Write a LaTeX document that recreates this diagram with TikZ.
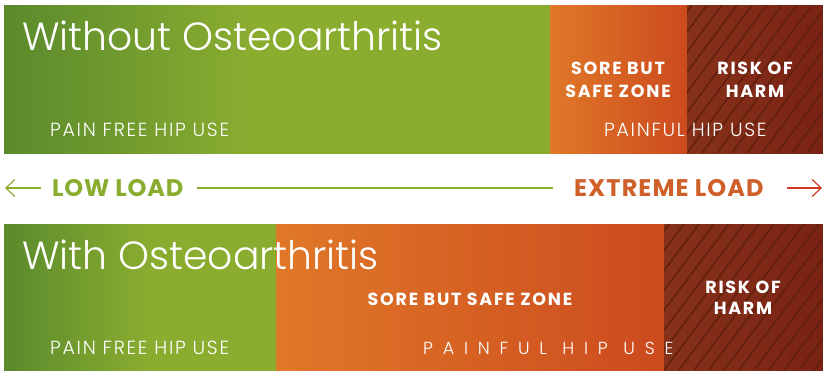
\documentclass[tikz,border=0pt]{standalone}
\usepackage{fontspec}
\setmainfont{Poppins}
\newfontfamily\lightf{Poppins Light}
\usetikzlibrary{arrows.meta}
\definecolor{gdark}{HTML}{5A8A2C}
\definecolor{glight}{HTML}{8AAD30}
\definecolor{oleft}{HTML}{E07828}
\definecolor{oright}{HTML}{CC4A1E}
\definecolor{bleft}{HTML}{86321A}
\definecolor{bright}{HTML}{7A2214}
\definecolor{stripe}{HTML}{62200F}
\definecolor{lowc}{HTML}{8AAD30}
\definecolor{extc}{HTML}{D0602A}
\definecolor{redarr}{HTML}{D03A20}
\tikzset{
  title/.style={anchor=base west, inner sep=0, white, font=\lightf\fontsize{39.3}{39.3}\selectfont},
  small/.style={anchor=base west, inner sep=0, white, font=\lightf\fontsize{19}{19}\selectfont\addfontfeature{LetterSpace=9}},
  bold/.style={inner sep=0, white, align=center, font=\bfseries\fontsize{17.5}{23}\selectfont\addfontfeature{LetterSpace=10}},
  load/.style={inner sep=0, anchor=base west, font=\bfseries\fontsize{24}{24}\selectfont},
  stripes/.style={stripe, line width=1.6pt},
  barb/.style={-{Straight Barb[length=9pt,width=17pt]}, line width=1.2pt}
}
\newcommand\shadebox[4]{%
  \begin{scope}\clip #3 rectangle #4; \shade[left color=#1,right color=#2] #3 rectangle #4;\end{scope}}
\begin{document}
\begin{tikzpicture}[x=1pt,y=-1pt]
\useasboundingbox (0,0) rectangle (823,370);
% top band
\shadebox{gdark}{glight}{(4,5)}{(250,153)}
\shadebox{glight}{glight}{(249.5,5)}{(550,153)}
\shadebox{oleft}{oright}{(550,5)}{(687,153)}
\shadebox{bleft}{bright}{(687,5)}{(823,153)}
\begin{scope}
\clip (687,5) rectangle (823,153);
\foreach \i in {-8,...,10} \draw[stripes] (687+\i*15,153) -- ++(110,-148);
\end{scope}
% bottom band
\shadebox{gdark}{glight}{(4,224)}{(150,370)}
\shadebox{glight}{glight}{(149.5,224)}{(276,370)}
\shadebox{oleft}{oright}{(276,224)}{(664,370)}
\shadebox{bleft}{bright}{(664,224)}{(823,370)}
\begin{scope}
\clip (664,224) rectangle (823,370);
\foreach \i in {-8,...,12} \draw[stripes] (664+\i*15,370) -- ++(110,-146);
\end{scope}
% texts top
\node[title] (t1) at (22,50) {Without Osteoarthritis};
\node[small] (pf1) at (50,136) {PAIN FREE HIP USE};
\node[small] (pu1) at (604,136) {PAINFUL HIP USE};
\node[bold] (sz1) at (618,80) {SORE BUT\\SAFE ZONE};
\node[bold] (rh1) at (755,80) {RISK OF\\HARM};
% texts bottom
\node[title] (t2) at (22,269) {With Osteoarthritis};
\node[small] (pf2) at (50,354) {PAIN FREE HIP USE};
\node[small, font=\lightf\fontsize{17.5}{17.5}\selectfont\addfontfeature{LetterSpace=56}] (pu2) at (423,354) {PAINFUL\hspace{1pt} HIP\hspace{1pt} USE};
\node[bold] (sz2) at (470,299) {SORE BUT SAFE ZONE};
\node[bold, font=\bfseries\fontsize{17.5}{21}\selectfont\addfontfeature{LetterSpace=10}] (rh2) at (743,298) {RISK OF\\HARM};
% load row
\node[load, lowc, font=\bfseries\fontsize{24}{24}\selectfont\addfontfeature{LetterSpace=3.5}] (low) at (52,196) {LOW LOAD};
\node[load, extc, font=\bfseries\fontsize{24}{24}\selectfont\addfontfeature{LetterSpace=4.5}] (ext) at (574,196) {EXTREME LOAD};
\coordinate (la) at (5,188);
\coordinate (lstart) at (41,188);
\coordinate (lineL) at (197,188);
\coordinate (lineR) at (553,188);
\coordinate (rstart) at (787,188);
\coordinate (ra) at (822,188);
\draw[lowc, barb] (lstart) -- (la);
\draw[lowc, line width=1.4pt] (lineL) -- (lineR);
\draw[redarr, barb] (rstart) -- (ra);
\end{tikzpicture}
\end{document}
